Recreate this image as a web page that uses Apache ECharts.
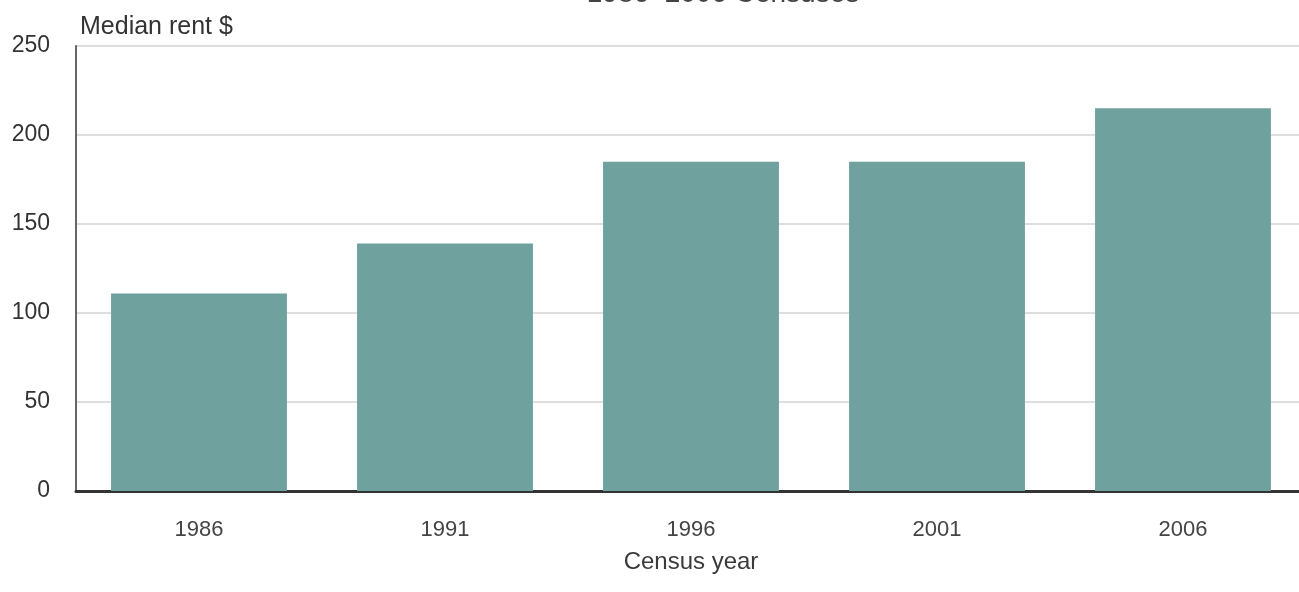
<!DOCTYPE html>
<html>
<head>
<meta charset="utf-8">
<script src="https://cdn.jsdelivr.net/npm/echarts@6/dist/echarts.min.js"></script>
<style>
  html, body { margin: 0; padding: 0; background: #fff; }
  #chart { width: 1299px; height: 592px; }
</style>
</head>
<body>
<div id="chart"></div>
<script>
// Median rent by census year
const years = ['1986', '1991', '1996', '2001', '2006'];
const medianRent = [111, 139, 185, 185, 215];
const yTicks = [0, 50, 100, 150, 200, 250];

const FONT = '"Liberation Sans", Arial, sans-serif';

const chart = echarts.init(document.getElementById('chart'), null, { renderer: 'canvas' });
chart.setOption({
  animation: false,
  backgroundColor: '#ffffff',
  title: {
    text: '1986–2006 Censuses',
    left: 718,
    textAlign: 'center',
    top: -25,
    textStyle: { fontFamily: FONT, fontSize: 28, fontWeight: 'normal', color: '#444' }
  },
  // the plot runs a little past the right edge of the canvas
  grid: { left: 76, width: 1230, top: 46, bottom: 101, outerBoundsMode: 'none', containLabel: false },
  xAxis: {
    type: 'category',
    data: years,
    name: 'Census year',
    nameLocation: 'middle',
    nameGap: 59,
    nameTextStyle: { fontFamily: FONT, fontSize: 24, color: '#3a3a3a' },
    axisLine: { lineStyle: { color: '#333', width: 3 } },
    axisTick: { show: false },
    axisLabel: { fontFamily: FONT, fontSize: 22, color: '#444', margin: 28 }
  },
  yAxis: {
    type: 'value',
    min: yTicks[0],
    max: yTicks[yTicks.length - 1],
    interval: 50,
    name: 'Median rent $',
    nameLocation: 'end',
    nameGap: 6,
    nameTextStyle: { fontFamily: FONT, fontSize: 25, color: '#333', align: 'left', padding: [0, 0, 0, 4] },
    axisLine: { show: true, lineStyle: { color: '#666', width: 2 } },
    axisTick: { show: false },
    axisLabel: { fontFamily: FONT, fontSize: 23, color: '#333', margin: 26 },
    splitLine: { lineStyle: { color: '#dedede', width: 2 } }
  },
  series: [{
    type: 'bar',
    data: medianRent,
    barCategoryGap: '28.5%',
    itemStyle: { color: '#6fa19f' }
  }]
});
</script>
</body>
</html>
